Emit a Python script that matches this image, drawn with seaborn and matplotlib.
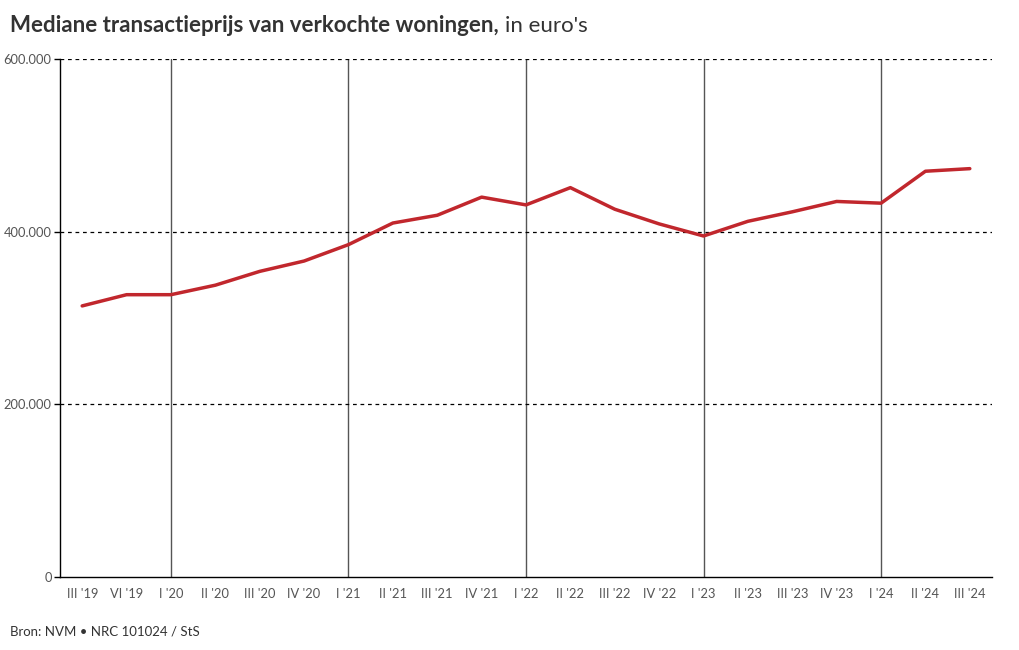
import matplotlib
matplotlib.use("Agg")
import matplotlib.pyplot as plt
import seaborn as sns
import pandas as pd

quarters = ["III '19", "VI '19", "I '20", "II '20", "III '20", "IV '20", "I '21", "II '21",
            "III '21", "IV '21", "I '22", "II '22", "III '22", "IV '22", "I '23", "II '23",
            "III '23", "IV '23", "I '24", "II '24", "III '24"]
prices = [314000, 327000, 327000, 338000, 354000, 366000, 385000, 410000, 419000, 440000,
          431000, 451000, 426000, 409000, 395000, 412000, 423000, 435000, 433000, 470000, 473000]
year_starts = ["I '20", "I '21", "I '22", "I '23", "I '24"]
y_ticks = [0, 200000, 400000, 600000]
y_tick_labels = ["0", "200.000", "400.000", "600.000"]

sns.set_theme(style="white")
plt.rcParams['font.family'] = ['Lato', 'DejaVu Sans']

df = pd.DataFrame({"kwartaal": quarters, "prijs": prices, "pos": range(len(quarters))})

fig = plt.figure(figsize=(10.2, 6.5), dpi=100)
ax = fig.add_axes([60/1020, 73/650, 932/1020, 518/650])

for q in year_starts:
    ax.axvline(quarters.index(q), color="#555555", lw=1, zorder=1)
for yv in y_ticks[1:]:
    ax.axhline(yv, color="black", lw=0.9, ls=(0, (3, 3)), zorder=1)

sns.lineplot(data=df, x="pos", y="prijs", ax=ax, color="#c1272d", lw=2.5, zorder=3)

ax.set_xlim(-0.5, len(quarters) - 0.5)
ax.set_ylim(0, 600000)
ax.set_xticks(range(len(quarters)))
ax.set_xticklabels(quarters)
ax.set_yticks(y_ticks)
ax.set_yticklabels(y_tick_labels)
ax.set_xlabel("")
ax.set_ylabel("")
ax.tick_params(axis="x", length=0, pad=8, labelsize=9.3, labelcolor="#555555")
ax.tick_params(axis="y", length=4, width=1, color="black", pad=2, labelsize=9.3, labelcolor="#555555", left=True)
for s in ["top", "right"]:
    ax.spines[s].set_visible(False)
for s in ["left", "bottom"]:
    ax.spines[s].set_color("black")
    ax.spines[s].set_linewidth(1)

t1 = fig.text(10/1020, 1 - 26/650, "Mediane transactieprijs van verkochte woningen,",
              fontsize=16, fontweight="bold", color="#333333", va="center", ha="left")
fig.canvas.draw()
bb = t1.get_window_extent(renderer=fig.canvas.get_renderer())
fig.text((bb.x1 + 6) / 1020, 1 - 26/650, "in euro's", fontsize=16, color="#333333",
         va="center", ha="left")

fig.text(10/1020, 1 - 632/650, "Bron: NVM \u2022 NRC 101024 / StS", fontsize=9.5,
         color="#333333", va="center", ha="left")

fig.savefig("out.png", dpi=100)
